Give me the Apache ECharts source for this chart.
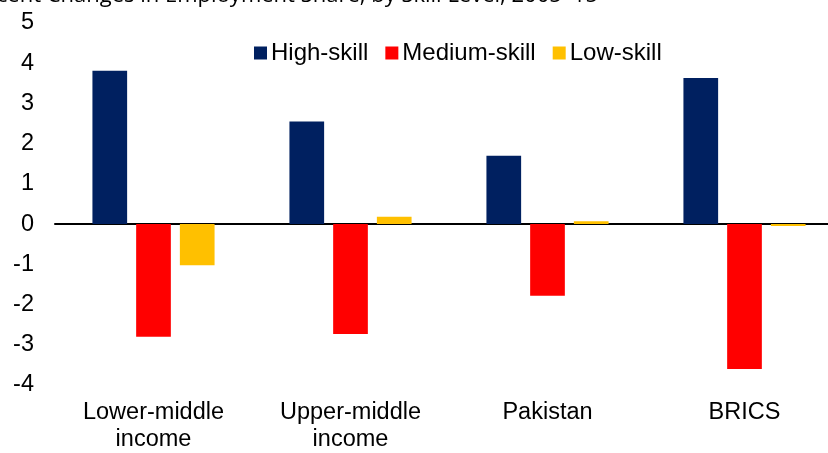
<!DOCTYPE html>
<html>
<head>
<meta charset="utf-8">
<script src="https://cdn.jsdelivr.net/npm/echarts@6/dist/echarts.min.js"></script>
<style>
  html, body { margin: 0; padding: 0; background: #fff; overflow: hidden; }
  #wrap { width: 828px; height: 453px; overflow: hidden; position: relative; }
  #chart { width: 843px; height: 453px; position: absolute; left: 0; top: 0; }
</style>
</head>
<body>
<div id="wrap"><div id="chart"></div></div>
<script>
// values
let categories = ["Lower-middle\nincome", "Upper-middle\nincome", "Pakistan", "BRICS"];
let highSkill = [3.81, 2.55, 1.7, 3.63];
let mediumSkill = [-2.8, -2.73, -1.78, -3.6];
let lowSkill = [-1.02, 0.18, 0.07, -0.05];
let yTicks = { min: -4, max: 5, step: 1 };

let chart = echarts.init(document.getElementById("chart"));
let font = "Liberation Sans, Arial, sans-serif";

let option = {
    animation: false,
    graphic: [{
        type: "text",
        right: 245,
        top: -15,
        style: {
            text: "Percent Changes in Employment Share, by Skill Level, 2005\u201315",
            font: "22px 'Open Sans', sans-serif",
            fill: "#000"
        }
    }],
    legend: {
        data: ["High-skill", "Medium-skill", "Low-skill"],
        left: 249,
        top: 36,
        icon: "rect",
        itemWidth: 13,
        itemHeight: 13,
        itemGap: 17,
        textStyle: { fontSize: 24, fontFamily: font, color: "#000", padding: [0, 0, 0, -1] }
    },
    grid: { left: 55, right: 0, top: 23, bottom: 65 },
    xAxis: [{
        type: "category",
        data: categories,
        axisLine: { show: false, onZero: false },
        axisTick: { show: false },
        axisLabel: { fontSize: 23.5, fontFamily: font, color: "#000", margin: 14, lineHeight: 27 }
    }, {
        type: "category",
        data: categories,
        position: "bottom",
        axisLine: { show: true, onZero: true, lineStyle: { color: "#000", width: 2 } },
        axisTick: { show: false },
        axisLabel: { show: false }
    }],
    yAxis: {
        type: "value",
        min: yTicks.min,
        max: yTicks.max,
        interval: yTicks.step,
        axisLine: { show: false },
        axisTick: { show: false },
        splitLine: { show: false },
        axisLabel: { fontSize: 23.5, fontFamily: font, color: "#000", margin: 21 }
    },
    series: [
        { name: "High-skill", type: "bar", data: highSkill, itemStyle: { color: "#002060" }, barGap: "26%", barCategoryGap: "38%" },
        { name: "Medium-skill", type: "bar", data: mediumSkill, itemStyle: { color: "#FF0000" } },
        { name: "Low-skill", type: "bar", data: lowSkill, itemStyle: { color: "#FFC000" } }
    ]
};
chart.setOption(option);
</script>
</body>
</html>
